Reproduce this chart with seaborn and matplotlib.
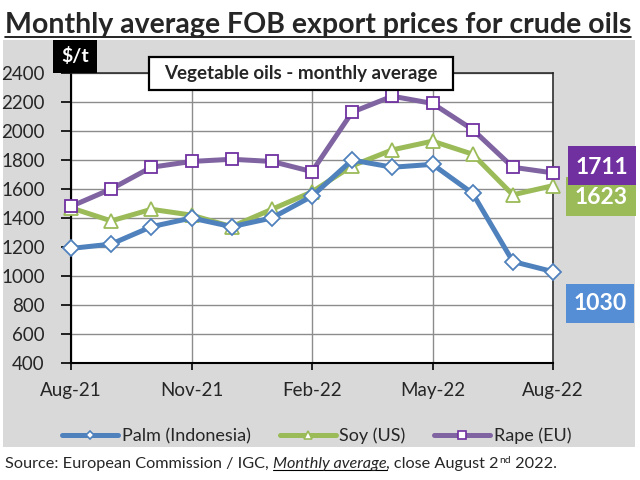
import matplotlib
matplotlib.use("Agg")
import matplotlib.pyplot as plt
from matplotlib.patches import Rectangle
from matplotlib.lines import Line2D
import pandas as pd
import seaborn as sns

months = ["Aug-21", "Sep-21", "Oct-21", "Nov-21", "Dec-21", "Jan-22", "Feb-22",
          "Mar-22", "Apr-22", "May-22", "Jun-22", "Jul-22", "Aug-22"]
palm = [1190, 1220, 1340, 1400, 1340, 1400, 1550, 1800, 1750, 1770, 1570, 1100, 1030]
soy = [1470, 1380, 1460, 1420, 1340, 1460, 1580, 1760, 1870, 1930, 1840, 1560, 1623]
rape = [1480, 1600, 1750, 1790, 1805, 1790, 1720, 2130, 2240, 2190, 2010, 1750, 1711]
series = ["Palm (Indonesia)", "Soy (US)", "Rape (EU)"]
tick_months = ["Aug-21", "Nov-21", "Feb-22", "May-22", "Aug-22"]

line_cols = {"Palm (Indonesia)": "#4F81BD", "Soy (US)": "#9BBB59", "Rape (EU)": "#8064A2"}
edge_cols = {"Palm (Indonesia)": "#4F81BD", "Soy (US)": "#9BBB59", "Rape (EU)": "#7030A0"}
box_cols = {"Palm (Indonesia)": "#558ED5", "Soy (US)": "#9BBB59", "Rape (EU)": "#7030A0"}
markers = {"Palm (Indonesia)": "D", "Soy (US)": "^", "Rape (EU)": "s"}
msize = {"Palm (Indonesia)": 8.5, "Soy (US)": 10, "Rape (EU)": 8}
leg_msize = {"Palm (Indonesia)": 4.5, "Soy (US)": 6, "Rape (EU)": 6}

df = pd.DataFrame({
    "month": months * 3,
    "pos": list(range(len(months))) * 3,
    "price": palm + soy + rape,
    "oil": [s for s in series for _ in months],
})

sns.set_style("white")
plt.rcParams["font.family"] = ["Lato", "DejaVu Sans"]

W, H = 640, 480
fig = plt.figure(figsize=(6.4, 4.8), dpi=100)


def fx(x):
    return x / W


def fy(y):
    return 1 - y / H


def box(x0, y0, x1, y1, z=1, **kw):
    # rectangle given in pixel coords from the top-left corner
    rect = Rectangle((fx(x0), fy(y1)), (x1 - x0) / W, (y1 - y0) / H,
                     transform=fig.transFigure, zorder=z, **kw)
    fig.add_artist(rect)


# grey panel behind the chart
fig.patches.append(Rectangle((fx(3), fy(447)), fx(632), (447 - 40) / H,
                             transform=fig.transFigure, facecolor="#D9D9D9",
                             edgecolor="none", zorder=-5))

ax = fig.add_axes([fx(71), fy(363), (553 - 71) / W, (363 - 73) / H])
ax.set_facecolor("white")

sns.lineplot(data=df, x="pos", y="price", hue="oil", style="oil",
             palette=line_cols, markers=markers, dashes=False,
             linewidth=3.6, legend=False, ax=ax)

for ln, s in zip(ax.lines, series):
    ln.set_markerfacecolor("white")
    ln.set_markeredgecolor(edge_cols[s])
    ln.set_markeredgewidth(1.3)
    ln.set_markersize(msize[s])
    ln.set_clip_on(False)
# rape drawn on top, then palm, soy lowest
for z, ln in zip([4, 3, 5], ax.lines):
    ln.set_zorder(z)

ax.set_xlim(0, len(months) - 1)
ax.set_ylim(400, 2400)
ax.set_yticks(range(400, 2401, 200))
ax.set_xticks([months.index(m) for m in tick_months])
ax.set_xticklabels(tick_months)
ax.tick_params(axis="both", labelsize=13.5, direction="out", width=1.2,
               color="black", left=True, bottom=True)
ax.tick_params(axis="y", length=7, pad=12)
ax.tick_params(axis="x", length=5, pad=9)
ax.grid(True, color="#8C8C8C", linewidth=1)
ax.set_axisbelow(True)
ax.set_xlabel("")
ax.set_ylabel("")
for side in ["top", "right"]:
    ax.spines[side].set_color("#222222")
    ax.spines[side].set_linewidth(1.1)
for side in ["left", "bottom"]:
    ax.spines[side].set_color("black")
    ax.spines[side].set_linewidth(1.5)

# title with underline
title = fig.text(fx(5), fy(33), "Monthly average FOB export prices for crude oils",
                 fontsize=20.5, fontweight="bold", fontstyle="normal",
                 ha="left", va="baseline")

# unit box
box(53, 40, 97, 73, z=6, facecolor="black", edgecolor="none")
fig.text(fx(75), fy(56), "$/t", fontsize=14, fontweight="bold", color="white",
         ha="center", va="center", zorder=7)

# inner caption box
box(149, 57, 453, 90, z=8, facecolor="white", edgecolor="black", linewidth=1.6)
fig.text(fx(301), fy(73), "Vegetable oils - monthly average", fontsize=13.5,
         fontweight="bold", ha="center", va="center", zorder=9)

# value boxes at the right
last = {"Palm (Indonesia)": palm[-1], "Soy (US)": soy[-1], "Rape (EU)": rape[-1]}
val_boxes = {"Soy (US)": (566, 177, 636, 216, 198),
             "Rape (EU)": (568, 146, 636, 185, 167),
             "Palm (Indonesia)": (566, 284, 634, 323, 304)}
for s in ["Soy (US)", "Rape (EU)", "Palm (Indonesia)"]:
    x0, y0, x1, y1, yc = val_boxes[s]
    box(x0, y0, x1, y1, z=10, facecolor=box_cols[s], edgecolor="none")
    fig.text(fx((x0 + x1) / 2), fy(yc), str(last[s]), fontsize=16.5, fontweight="bold",
             color="white", ha="center", va="center", zorder=11)

handles = [Line2D([0], [0], color=line_cols[s], lw=3.6, marker=markers[s],
                  markersize=leg_msize[s], markerfacecolor="white",
                  markeredgecolor=edge_cols[s], markeredgewidth=1.2) for s in series]
fig.legend(handles, series, loc="center", bbox_to_anchor=(fx(317), fy(436)), ncol=3,
           frameon=False, fontsize=13, handlelength=3.1, handletextpad=0.2,
           columnspacing=1.6)

# underline for the title, then the source line built from pieces
fig.canvas.draw()
r = fig.canvas.get_renderer()
bb = title.get_window_extent(r)
fig.add_artist(Line2D([bb.x0, bb.x1], [H - 37, H - 37], transform=None,
                      color="black", lw=1.2))

pieces = [("Source: European Commission / IGC, ", {}, 0, False),
          ("Monthly average", {"style": "italic"}, 0, True),
          (", close August 2", {}, 0, False),
          ("nd", {"fontsize": 7.5}, 5, False),
          (" 2022.", {}, 0, False)]
x = 5
base = H - 468
for txt, kw, rise, ul in pieces:
    opts = {"fontsize": 11.7}
    opts.update(kw)
    t = fig.text(x / W, (base + rise) / H, txt, ha="left", va="baseline", **opts)
    e = t.get_window_extent(r)
    if ul:
        fig.add_artist(Line2D([e.x0, e.x1], [base - 2, base - 2], transform=None,
                              color="black", lw=0.8))
    x = e.x1

fig.savefig("out.png", dpi=100)
